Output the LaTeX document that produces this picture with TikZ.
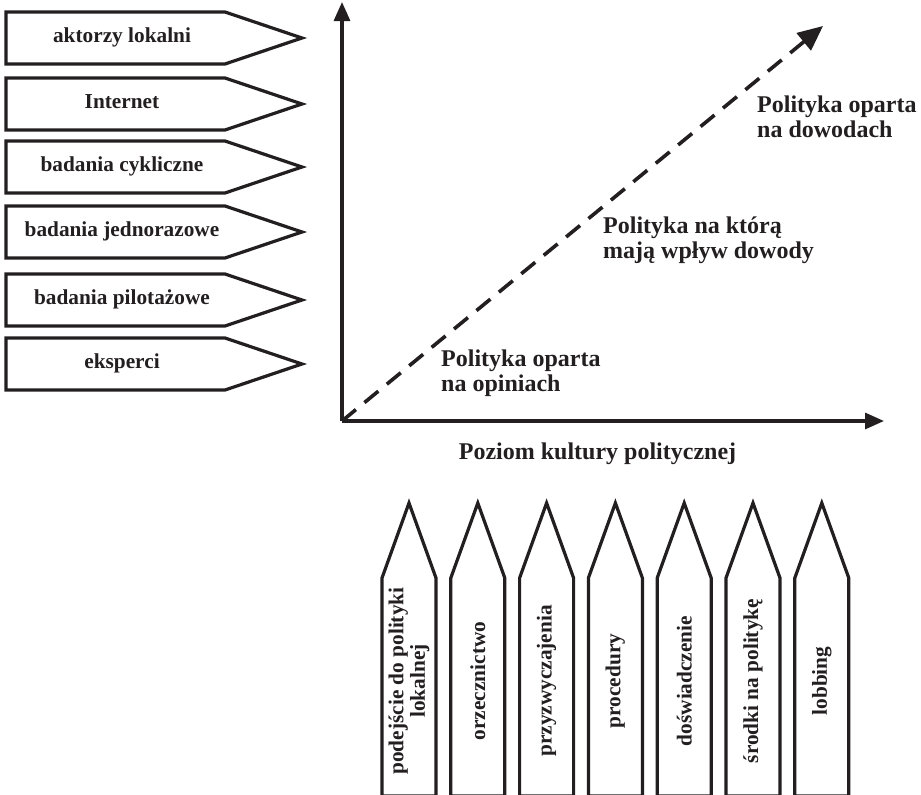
\documentclass[tikz,border=0pt]{standalone}
\usepackage{fontspec}
\setmainfont{Liberation Serif}
\usetikzlibrary{arrows.meta}
\definecolor{ink}{RGB}{35,31,32}
\begin{document}
\begin{tikzpicture}[x=1pt,y=-1pt,
  box/.style={draw=ink, line width=3.2pt, fill=white, line join=miter},
  srclbl/.style={font=\bfseries\fontsize{21.3}{22}\selectfont, text=ink, anchor=base, inner sep=0pt},
  factlbl/.style={font=\bfseries\fontsize{21.3}{21.5}\selectfont, text=ink, rotate=90, align=center, inner sep=0pt},
  stage/.style={font=\bfseries\fontsize{24}{25}\selectfont, text=ink, align=left, anchor=base west, inner sep=0pt},
  axis/.style={draw=ink, line width=3.2pt, -{Triangle[length=19pt,width=16pt]}},
  trend/.style={draw=ink, line width=3.6pt, dash pattern=on 18pt off 11pt, -{Triangle[length=25pt,width=22pt]}}
]
\useasboundingbox (0,0) rectangle (921,795);

% sources: pentagon arrows pointing right
\foreach \t/\txt [count=\i] in {12/aktorzy lokalni, 78/Internet, 141/badania cykliczne,
    206/badania jednorazowe, 274/badania pilotażowe, 338/eksperci} {
  \draw[box] (6,\t) -- (225,\t) -- (302,\t+26) -- (225,\t+52) -- (6,\t+52) -- cycle;
  \node[srclbl] (src\i) at (122,\t+30.7) {\txt};
}

% axes and trend line
\coordinate (O) at (342,421);
\coordinate (ytop) at (342,2);
\coordinate (xend) at (884,421);
\coordinate (dtip) at (823,26);
\draw[axis] (O) -- (ytop);
\draw[axis] (O) -- (xend);
\draw[trend] (O) -- (dtip);

% stage labels (base anchor sits on the last line)
\node[stage] (opinie) at (441,391) {Polityka oparta\\na opiniach};
\node[stage] (wplyw) at (603,258) {Polityka na którą\\mają wpływ dowody};
\node[stage] (dowody) at (757,137) {Polityka oparta\\na dowodach};
\node[font=\bfseries\fontsize{24}{25}\selectfont, text=ink, anchor=base, inner sep=0pt]
  (xlab) at (597.5,459) {Poziom kultury politycznej};

% factors: pentagon arrows pointing up
\foreach \txt [count=\i from 0] in {podejście do polityki\\lokalnej, orzecznictwo, przyzwyczajenia,
    procedury, doświadczenie, środki na politykę, lobbing} {
  \pgfmathsetmacro{\L}{382+68.8*\i}
  \draw[box] (\L,796) -- (\L,578) -- (\L+27,503) -- (\L+54,578) -- (\L+54,796) -- cycle;
  \node[factlbl] (fac\i) at (\L+27,681) {\txt};
}
\end{tikzpicture}
\end{document}
